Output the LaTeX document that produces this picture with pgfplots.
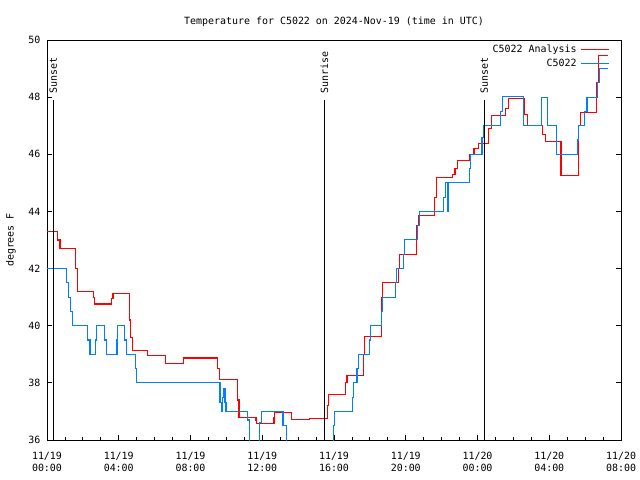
\documentclass[border=0pt]{standalone}
\usepackage{fontspec}
\setmainfont{DejaVu Sans Mono}
\usepackage{pgfplots}
\pgfplotsset{compat=1.18}
\definecolor{gred}{RGB}{255,0,0}
\definecolor{gblue}{RGB}{0,128,255}
\begin{document}
\begin{tikzpicture}
\path[use as bounding box] (-47bp,-40bp) rectangle (593bp,440bp);
\begin{axis}[
  at={(0,0)}, anchor=south west,
  scale only axis, width=574bp, height=400bp,
  xmin=0, xmax=32, ymin=36, ymax=50,
  xtick={0,4,...,32},
  xticklabels={{11/19\\00:00},{11/19\\04:00},{11/19\\08:00},{11/19\\12:00},{11/19\\16:00},{11/19\\20:00},{11/20\\00:00},{11/20\\04:00},{11/20\\08:00}},
  minor x tick num=3,
  ytick={36,38,...,50},
  xtick pos=lower, ytick pos=both,
  tick align=inside,
  major tick length=5bp, minor tick length=3bp,
  tick style={black, line width=0.8bp},
  axis line style={line width=0.8bp},
  xticklabel style={align=center, font=\fontsize{10}{12}\selectfont, yshift=-9bp},
  yticklabel style={xshift=-3bp},
  /pgf/number format/assume math mode=true,
  title={Temperature for C5022 on 2024-Nov-19 (time in UTC)},
  title style={yshift=4bp},
  ylabel={degrees F},
  ylabel style={yshift=6bp},
  legend plot pos=right,
  legend cell align=right,
  legend style={draw=none, fill=none, at={(1,1)}, anchor=north east, xshift=-10bp, yshift=-2bp, inner sep=1bp, row sep=1bp, nodes={inner xsep=4bp}},
  legend image code/.code={\draw[#1] (0bp,0bp) -- (28bp,0bp);},
]
\addplot[gred, line width=1.2bp, const plot mark left] coordinates {
(0,43.30) (0.6,43.0) (0.72,42.71) (1.6,42.0) (1.69,41.2) (2.58,41.0) (2.65,40.76)
(3.59,40.95) (3.68,41.13) (4.59,40.2) (4.65,39.6) (4.76,39.14) (5.59,38.96)
(6.6,38.68) (7.6,38.87) (9.49,38.5) (9.6,38.12) (10.6,37.4) (10.7,36.79)
(11.65,36.7) (11.7,36.58) (12.65,36.8) (12.7,36.97) (13.62,36.72) (14.62,36.76)
(15.63,37.2) (15.68,37.60) (16.65,38.0) (16.72,38.26) (17.63,39.0) (17.7,39.63)
(18.63,41.0) (18.7,41.52) (19.58,42.0) (19.65,42.50) (20.6,43.5) (20.7,43.86)
(21.61,44.5) (21.7,45.19) (22.61,45.3) (22.75,45.5) (22.9,45.79) (23.58,46.0)
(23.8,46.2) (24.04,46.38) (24.6,46.9) (24.77,47.36) (25.57,47.6) (25.71,47.96)
(26.6,47.4) (26.77,47.01) (27.63,46.7) (27.79,46.45) (28.65,45.26) (29.62,47.0)
(29.73,47.47) (30.62,48.5) (30.73,49.46) (31.29,49.46)
};
\addlegendentry{C5022 Analysis}
\addplot[gblue, line width=1.2bp, const plot mark left] coordinates {
(0,42.0) (1.1,41.5) (1.2,41.0) (1.3,40.5) (1.41,40.0) (2.27,39.5) (2.4,39.0)
(2.69,39.5) (2.75,40.0) (3.2,39.5) (3.3,39.0) (3.9,39.5) (3.95,40.0) (4.31,39.5)
(4.45,39.0) (4.94,38.5) (5.0,38.0) (9.64,37.3) (9.72,37.0) (9.8,37.5) (9.85,37.8)
(9.92,37.3) (9.98,37.0) (11.19,36.7) (11.28,35.5) (11.84,36.6) (11.95,37.0)
(13.16,36.5) (13.35,35.5) (15.96,36.5) (16.04,36.99) (17.02,37.5) (17.1,38.02)
(17.28,38.5) (17.37,39.0) (17.97,39.5) (18.05,40.01) (18.63,40.5) (18.7,41.0)
(19.42,41.5) (19.5,42.0) (19.87,42.5) (19.95,43.02) (20.66,43.5) (20.75,44.0)
(22.1,44.5) (22.2,45.0) (22.32,44.0) (22.38,45.0) (23.54,45.5) (23.63,46.0)
(24.25,46.6) (24.35,47.0) (25.27,47.5) (25.38,48.02) (26.55,47.0) (27.57,48.0)
(27.9,47.0) (28.39,46.0) (29.56,46.5) (29.62,47.0) (29.98,47.5) (30.1,48.0)
(30.67,48.5) (30.81,49.0) (31.29,49.0)
};
\addlegendentry{C5022}
\addplot[black, line width=0.8bp, forget plot] coordinates {(0.35,36) (0.35,47.9)};
\addplot[black, line width=0.8bp, forget plot] coordinates {(15.46,36) (15.46,47.9)};
\addplot[black, line width=0.8bp, forget plot] coordinates {(24.38,36) (24.38,47.9)};
\node[rotate=90, anchor=west, inner sep=2bp] at (axis cs:0.35,48.05) {Sunset};
\node[rotate=90, anchor=west, inner sep=2bp] at (axis cs:15.46,48.05) {Sunrise};
\node[rotate=90, anchor=west, inner sep=2bp] at (axis cs:24.38,48.05) {Sunset};
\end{axis}
\end{tikzpicture}
\end{document}
